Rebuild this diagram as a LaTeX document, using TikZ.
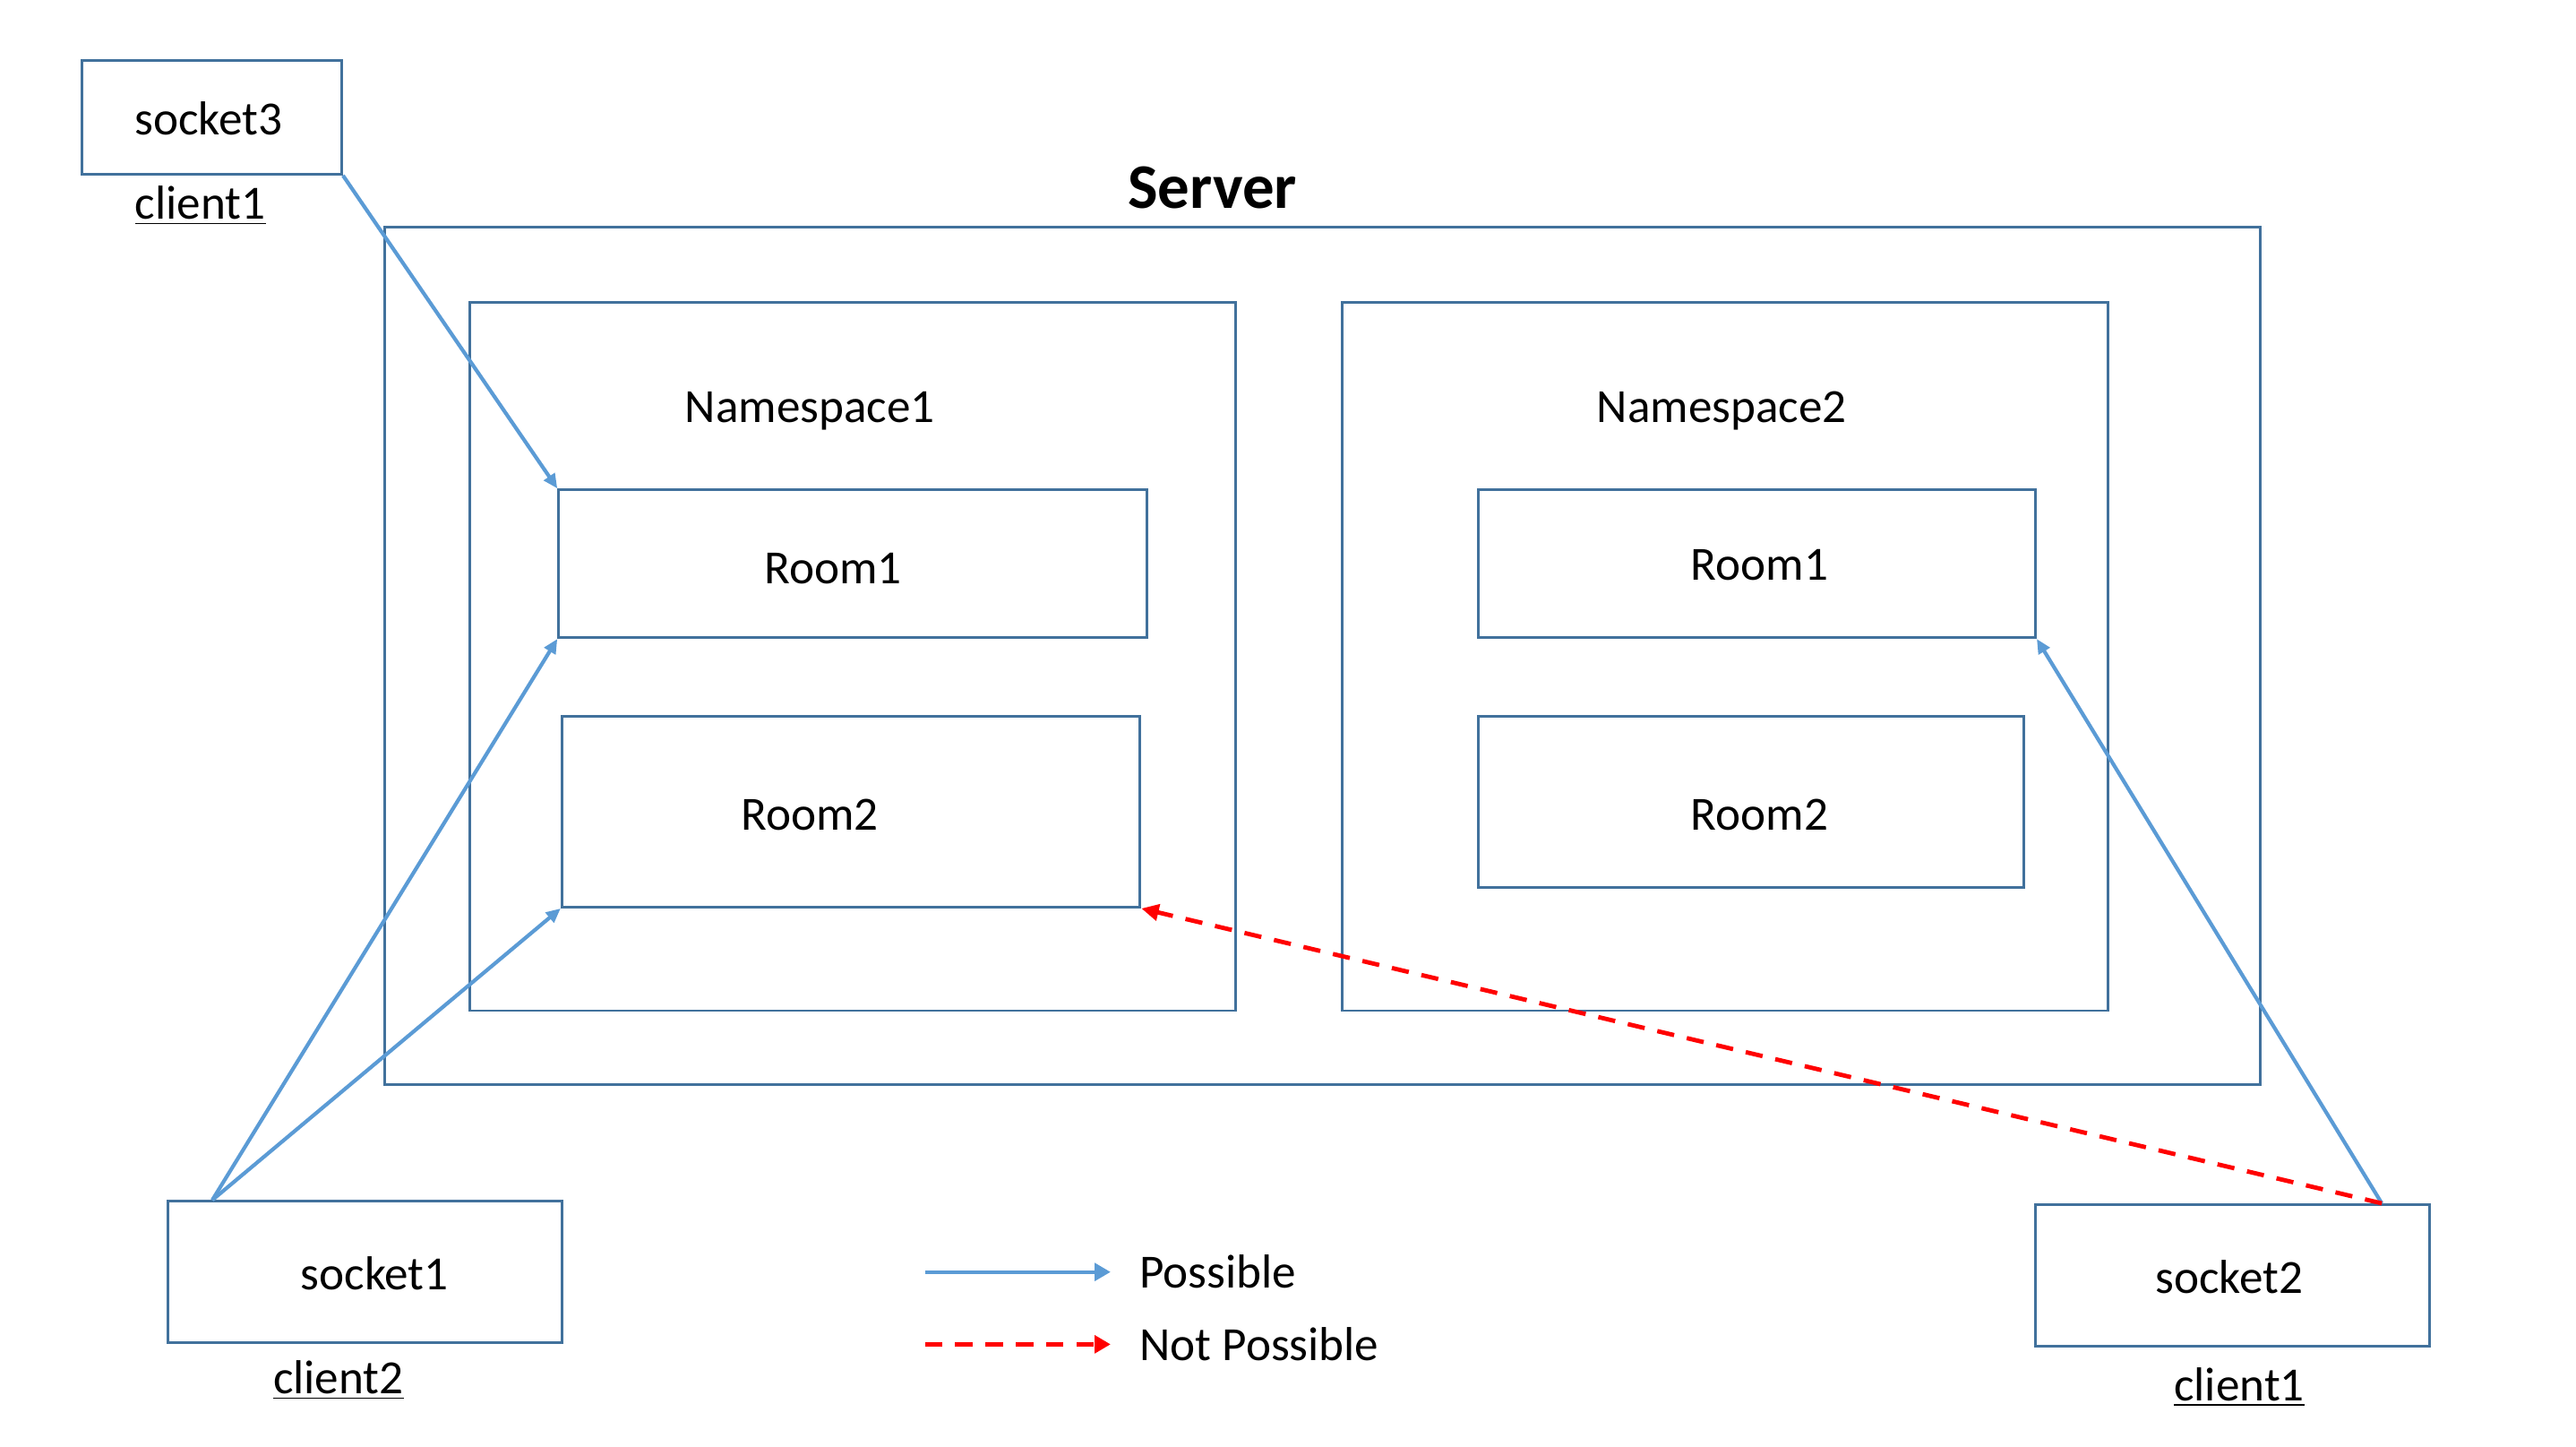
\documentclass[tikz,border=0pt]{standalone}
\usepackage{fontspec}
\setmainfont{Carlito}
\usetikzlibrary{arrows.meta,positioning}
\definecolor{boxblue}{HTML}{41719C}
\definecolor{arrowblue}{HTML}{5B9BD5}

\begin{document}
\begin{tikzpicture}[x=0.02cm, y=-0.02cm, font=\fontsize{16.5}{20}\selectfont]
\tikzstyle{box} = [rectangle, draw=boxblue, line width=0.9pt, inner sep=0pt]
\tikzstyle{possible} = [color=arrowblue, line width=1.3pt,
  -{Triangle[length=5pt,width=4.4pt]}]
\tikzstyle{notpossible} = [color=red, line width=1.5pt,
  dash pattern=on 6pt off 4.5pt, -{Triangle[length=6pt,width=5.6pt]}]
\tikzstyle{client} = [inner sep=2pt]

\useasboundingbox (0,0) rectangle (1568,880);

% server with its two namespaces
\node[box, minimum width=22.84cm, minimum height=10.44cm] (server) at (805,399) {};
\node[font=\fontsize{22}{26}\selectfont\bfseries] (serverlbl) at (738,114) {Server};

\node[box, minimum width=9.32cm, minimum height=8.62cm] (ns1) at (519,399.5) {};
\node (ns1lbl) at (493,250) {Namespace1};
\node[box, minimum width=7.16cm, minimum height=1.8cm] (r11) at (519,343) {};
\node (r11lbl) at (507,346) {Room1};
\node[box, minimum width=7.04cm, minimum height=2.32cm] (r12) at (518,494) {};
\node (r12lbl) at (493,496) {Room2};

\node[box, minimum width=9.32cm, minimum height=8.62cm] (ns2) at (1050,399.5) {};
\node (ns2lbl) at (1048,250) {Namespace2};
\node[box, minimum width=6.78cm, minimum height=1.8cm] (r21) at (1069.5,343) {};
\node (r21lbl) at (1071,344) {Room1};
\node[box, minimum width=6.64cm, minimum height=2.08cm] (r22) at (1066,488) {};
\node (r22lbl) at (1071,496) {Room2};

% sockets and their clients
\node[box, minimum width=3.16cm, minimum height=1.38cm] (s3) at (129,71.5) {};
\node (s3lbl) at (127,72) {socket3};
\node[client] (c3) at (122,125) {\underline{client1}};
\node[box, minimum width=4.8cm, minimum height=1.72cm] (s1) at (222,774) {};
\node (s1lbl) at (228,775) {socket1};
\node[client] (c1) at (206,840) {\underline{client2}};
\node[box, minimum width=4.8cm, minimum height=1.72cm] (s2) at (1359,776) {};
\node (s2lbl) at (1357,777) {socket2};
\node[client] (c2) at (1363,844) {\underline{client1}};

\coordinate (s1out) at ([xshift=0.56cm]s1.north west);
\coordinate (s2out) at ([xshift=-0.6cm]s2.north east);

\draw[possible] (s3.south east) -- (r11.north west);
\draw[possible] (s1out) -- (r11.south west);
\draw[possible] (s1out) -- (r12.south west);
\draw[possible] (s2out) -- (r21.south east);
\draw[notpossible] (s2out) -- (r12.south east);

% legend
\coordinate (lg1a) at (563,774);
\coordinate (lg1b) at (676,774);
\coordinate (lg2a) at (563,818);
\coordinate (lg2b) at (676,818);
\draw[possible, -{Triangle[length=5.5pt,width=6pt]}] (lg1a) -- (lg1b);
\draw[notpossible, -{Triangle[length=5.5pt,width=6pt]}] (lg2a) -- (lg2b);
\node[right=2.3mm of lg1b] (lgposs) {Possible};
\node[right=2.3mm of lg2b] (lgnot) {Not Possible};
\end{tikzpicture}
\end{document}
